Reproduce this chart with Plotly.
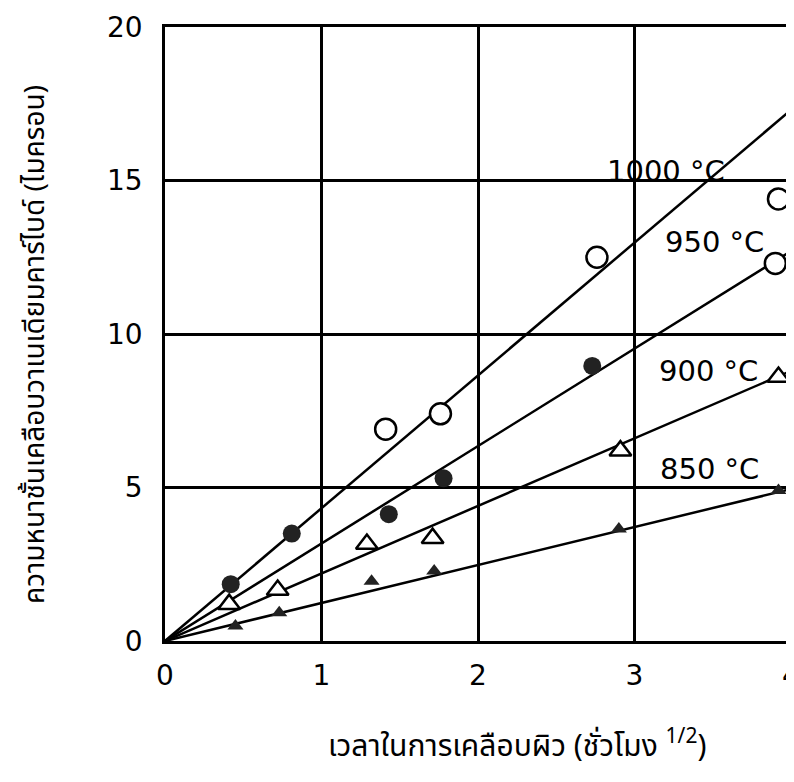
import plotly.graph_objects as go

# Data
open_circle_x = [1.41, 1.76, 2.76, 3.92, 3.90]
open_circle_y = [6.9, 7.4, 12.5, 14.4, 12.3]
filled_circle_x = [0.42, 0.81, 1.43, 1.78, 2.73]
filled_circle_y = [1.85, 3.5, 4.13, 5.3, 8.96]
open_tri_x = [0.41, 0.72, 1.29, 1.71, 2.91, 3.92]
open_tri_y = [1.2, 1.66, 3.16, 3.35, 6.2, 8.6]
filled_tri_x = [0.45, 0.73, 1.32, 1.72, 2.90, 3.92]
filled_tri_y = [0.49, 0.92, 1.95, 2.28, 3.65, 4.9]

line_x = [0, 4]
line_1000 = [0, 17.3]
line_950 = [0, 12.7]
line_900 = [0, 8.8]
line_850 = [0, 4.95]

labels = ["1000 °C", "950 °C", "900 °C", "850 °C"]
label_x = [3.2, 3.51, 3.47, 3.48]
label_y = [15.3, 13.0, 8.8, 5.6]

x_ticks = [0, 1, 2, 3, 4]
y_ticks = [0, 5, 10, 15, 20]

x_title = "เวลาในการเคลือบผิว (ชั่วโมง <sup>1/2</sup>)"
y_title = "ความหนาชั้นเคลือบวาเนเดียมคาร์ไบด์ (ไมครอน)"

num_font = "DejaVu Sans, Arial, sans-serif"
thai_font = "Noto Sans Thai, Noto Sans Thai Looped, Tahoma, Loma, Garuda, sans-serif"

fig = go.Figure()
for ly in [line_1000, line_950, line_900, line_850]:
    fig.add_trace(go.Scatter(x=line_x, y=ly, mode="lines",
                             line=dict(color="black", width=2.5), showlegend=False))

fig.add_trace(go.Scatter(x=open_circle_x, y=open_circle_y, mode="markers",
                         marker=dict(symbol="circle", size=21, color="white", line=dict(width=2.5, color="black")),
                         showlegend=False, cliponaxis=False))
fig.add_trace(go.Scatter(x=filled_circle_x, y=filled_circle_y, mode="markers",
                         marker=dict(symbol="circle", size=18, color="#222"),
                         showlegend=False, cliponaxis=False))
fig.add_trace(go.Scatter(x=open_tri_x, y=open_tri_y, mode="markers",
                         marker=dict(symbol="triangle-up", size=19, color="white", line=dict(width=2.5, color="black")),
                         showlegend=False, cliponaxis=False))
fig.add_trace(go.Scatter(x=filled_tri_x, y=filled_tri_y, mode="markers",
                         marker=dict(symbol="triangle-up", size=14, color="#222"),
                         showlegend=False, cliponaxis=False))

for t, lx, ly in zip(labels, label_x, label_y):
    fig.add_annotation(x=lx, y=ly, text=t, showarrow=False, xanchor="center", yanchor="middle",
                       font=dict(family=num_font, size=29, color="black"))

fig.add_annotation(xref="paper", yref="paper", x=0.562, y=0, yshift=-104, text=x_title,
                   showarrow=False, xanchor="center", yanchor="middle",
                   font=dict(family=thai_font, size=30, color="black"))
fig.add_annotation(xref="paper", yref="paper", x=0, y=0.482, xshift=-130, text=y_title,
                   showarrow=False, xanchor="center", yanchor="middle", textangle=-90,
                   font=dict(family=thai_font, size=28, color="black"))

fig.update_layout(
    width=794, height=782,
    paper_bgcolor="white", plot_bgcolor="white",
    margin=dict(l=157, r=11, t=19, b=149),
    xaxis=dict(range=[0, 4], tickvals=x_ticks, ticktext=[str(v) for v in x_ticks],
               showgrid=True, gridcolor="black", gridwidth=2.5, zeroline=False,
               showline=True, linecolor="black", linewidth=2.5, mirror=True,
               ticks="outside", ticklen=8, tickcolor="rgba(0,0,0,0)", automargin=False,
               ticklabeloverflow="allow",
               tickfont=dict(family=num_font, size=28, color="black")),
    yaxis=dict(range=[0, 20], tickvals=y_ticks, ticktext=[str(v) for v in y_ticks],
               showgrid=True, gridcolor="black", gridwidth=2.5, zeroline=False,
               showline=True, linecolor="black", linewidth=2.5, mirror=True,
               ticks="outside", ticklen=14, tickcolor="rgba(0,0,0,0)", automargin=False,
               ticklabeloverflow="allow",
               tickfont=dict(family=num_font, size=28, color="black")),
)

fig.write_html("out.html")
